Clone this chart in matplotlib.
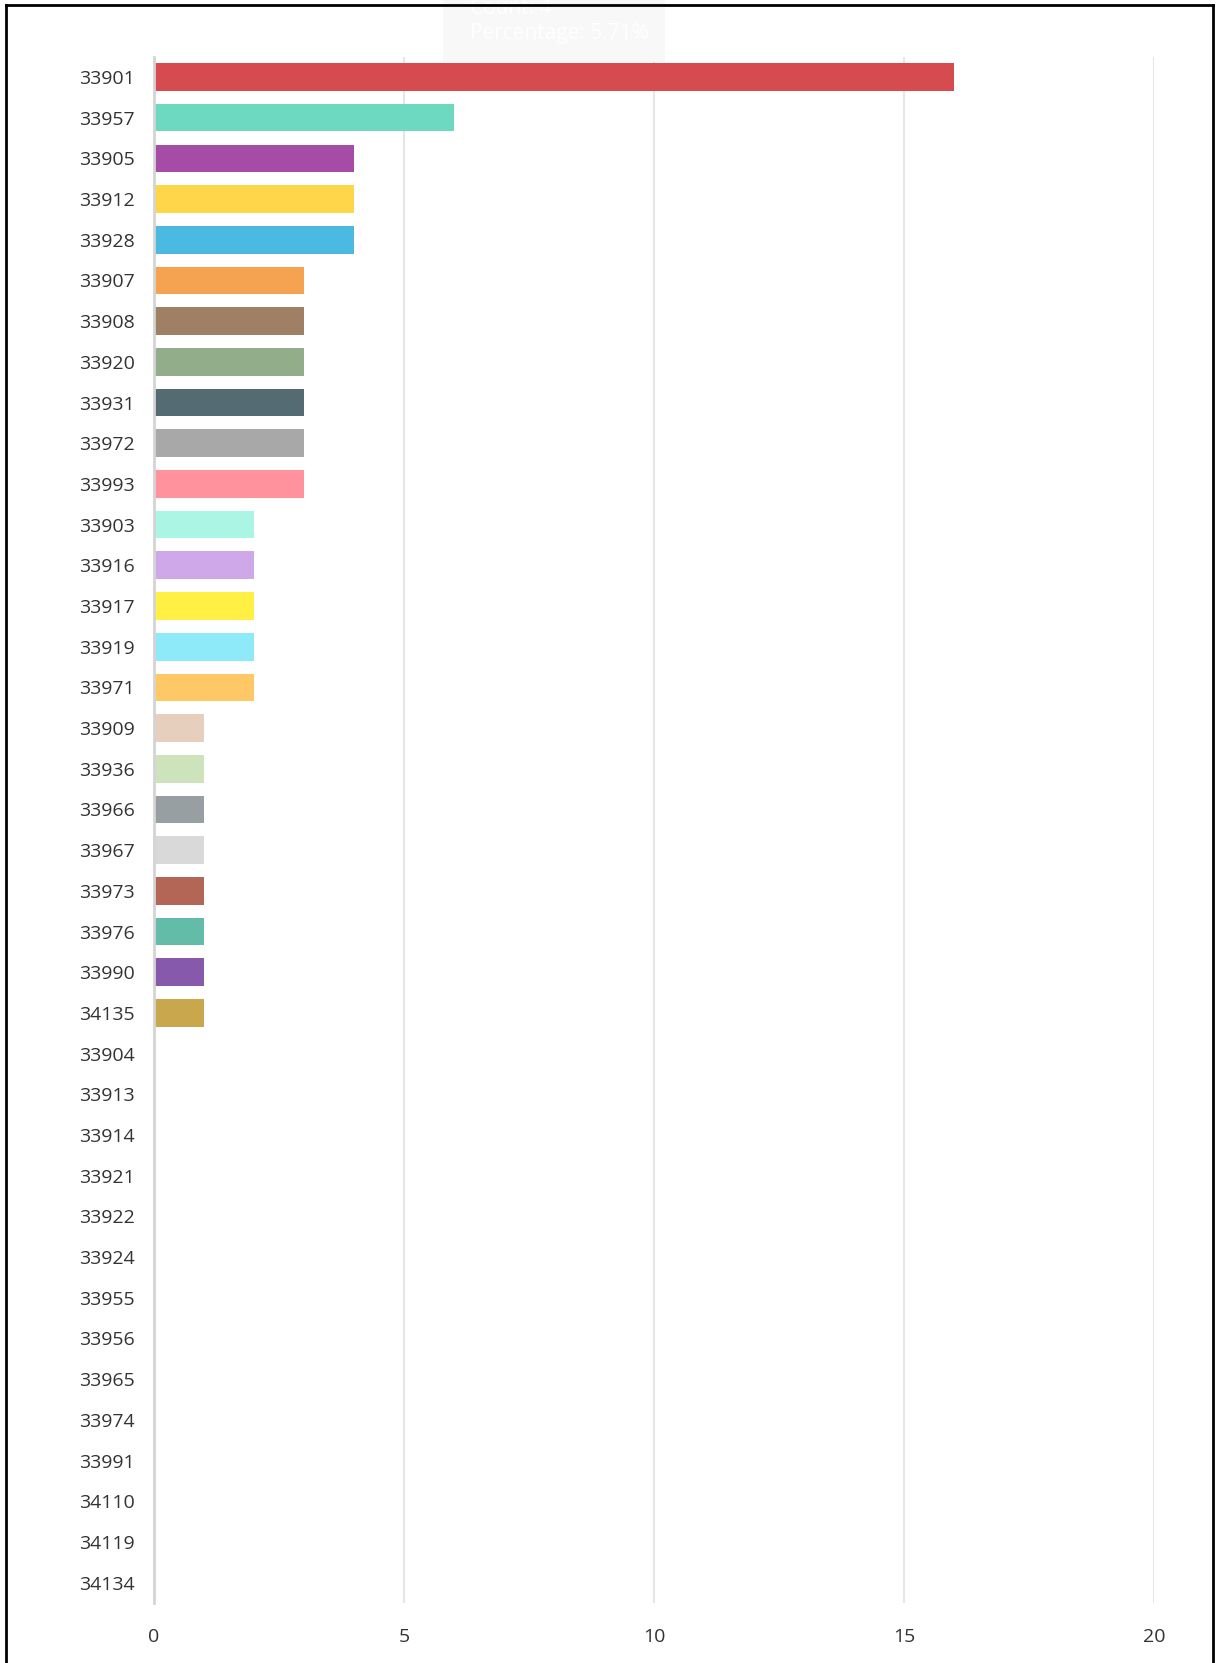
import matplotlib.pyplot as plt
from matplotlib.lines import Line2D
from matplotlib.patches import Rectangle

plt.rcParams['font.family'] = ['Open Sans', 'DejaVu Sans']

zip_codes = ['33901', '33957', '33905', '33912', '33928', '33907', '33908', '33920',
             '33931', '33972', '33993', '33903', '33916', '33917', '33919', '33971',
             '33909', '33936', '33966', '33967', '33973', '33976', '33990', '34135',
             '33904', '33913', '33914', '33921', '33922', '33924', '33955', '33956',
             '33965', '33974', '33991', '34110', '34119', '34134']
counts = [16, 6, 4, 4, 4, 3, 3, 3, 3, 3, 3, 2, 2, 2, 2, 2,
          1, 1, 1, 1, 1, 1, 1, 1, 0, 0, 0, 0, 0, 0, 0, 0, 0, 0, 0, 0, 0, 0]
bar_colors = ['#d64b4f', '#6dd9c0', '#a54ca6', '#ffd54a', '#4cb9e1', '#f5a251',
              '#a08064', '#91ad89', '#546b74', '#a8a8a8', '#ff929d', '#aaf5e4',
              '#cfa8ea', '#fff043', '#8eeaf9', '#ffc866', '#e6d0bd', '#cce3bc',
              '#979fa2', '#d9d9d9', '#b46656', '#63bca8', '#8759ad', '#c9a74c']
tick_vals = [0, 5, 10, 15, 20]

W, H = 1217, 1663
fig = plt.figure(figsize=(W / 100, H / 100), dpi=100)
ax = fig.add_axes([154 / W, 1 - 1603 / H, 1000 / W, (1603 - 56.6) / H])

n = len(zip_codes)
ypos = list(range(n))
colors = bar_colors + ['#cccccc'] * (n - len(bar_colors))
ax.barh(ypos, counts, height=0.68, color=colors, linewidth=0, zorder=3)

ax.set_ylim(n - 0.5, -0.5)
ax.set_xlim(0, 20)
ax.set_yticks(ypos)
ax.set_yticklabels(zip_codes)
ax.set_xticks(tick_vals)
ax.set_xticklabels([str(v) for v in tick_vals])
ax.tick_params(axis='both', length=0, labelsize=14, labelcolor='#333333')
ax.tick_params(axis='y', pad=14)
ax.tick_params(axis='x', pad=18)

for s in ['top', 'right', 'bottom']:
    ax.spines[s].set_visible(False)
ax.spines['left'].set_color('#d4d4d4')
ax.spines['left'].set_linewidth(2)
ax.spines['left'].set_zorder(4)
ax.grid(axis='x', color='#e6e6e6', linewidth=1.5, zorder=0)

# faint tooltip left over at the top
fig.add_artist(Rectangle((443 / W, 1 - 62 / H), 222 / W, 62 / H,
                         transform=fig.transFigure, facecolor='#f8f8f8',
                         edgecolor='none', zorder=10))
fig.text(470 / W, 1 - 8 / H, 'Count: 4', color='white', fontsize=15,
         va='center', zorder=11)
fig.text(470 / W, 1 - 34 / H, 'Percentage: 5.71%', color='white', fontsize=15,
         va='center', zorder=11)

# outer frame
fig.add_artist(Line2D([6 / W, 6 / W], [0, 1 - 5 / H], color='black', lw=2,
                      transform=fig.transFigure, zorder=12))
fig.add_artist(Line2D([6 / W, 1213 / W], [1 - 5 / H, 1 - 5 / H], color='black', lw=2,
                      transform=fig.transFigure, zorder=12))
fig.add_artist(Line2D([1213 / W, 1213 / W], [0, 1 - 5 / H], color='black', lw=2,
                      transform=fig.transFigure, zorder=12))

fig.savefig('out.png', dpi=100)
